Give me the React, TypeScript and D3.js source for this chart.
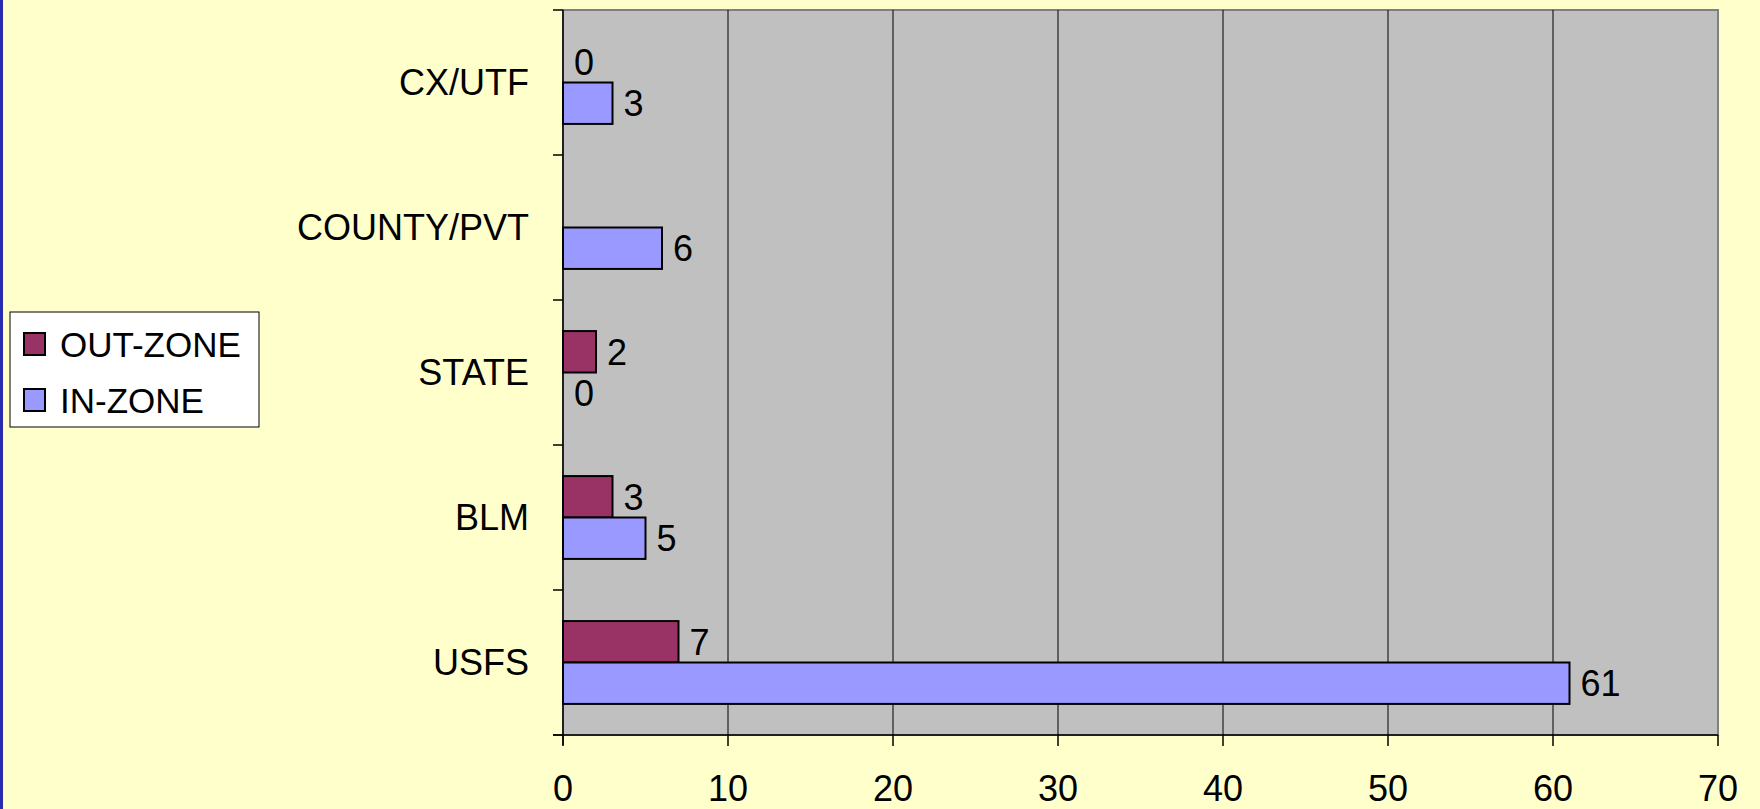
import React from "react";
import * as d3 from "d3";

const categories = ["CX/UTF", "COUNTY/PVT", "STATE", "BLM", "USFS"];
const seriesNames = ["OUT-ZONE", "IN-ZONE"];
const outZone: (number | null)[] = [0, null, 2, 3, 7];
const inZone: (number | null)[] = [3, 6, 0, 5, 61];
const xTicks = [0, 10, 20, 30, 40, 50, 60, 70];
const colors = ["#993366", "#9999FF"];

const W = 1760;
const H = 809;
const FONT = "'Liberation Sans', Arial, sans-serif";
const FS = 36;

export default function App() {
  const left = 563, right = 1718, top = 10, bottom = 735;
  const x = d3.scaleLinear().domain([0, 70]).range([left, right]);
  const y = d3.scaleBand<string>().domain(categories).range([top, bottom]).padding(0);
  const inner = d3.scaleBand<string>().domain(seriesNames).range([0, y.bandwidth()]).paddingInner(0).paddingOuter(0.75);
  const series = [outZone, inZone];
  const legendY = [344, 400];

  return (
    <svg width={W} height={H} style={{ position: "absolute", left: 0, top: 0, display: "block" }} fontFamily={FONT}>
      <rect x={0} y={0} width={W} height={H} fill="#FFFFCC" />
      <rect x={0} y={0} width={3} height={H} fill="#2B2BB0" />
      {/* plot area */}
      <rect x={left} y={top} width={right - left} height={bottom - top} fill="#C0C0C0" stroke="#808080" strokeWidth={2} />
      {/* gridlines */}
      {xTicks.slice(1, -1).map((t) => (
        <line key={"g" + t} x1={x(t)} x2={x(t)} y1={top} y2={bottom} stroke="#000" strokeWidth={1} />
      ))}
      {/* bars */}
      {categories.map((c, ci) =>
        series.map((s, si) => {
          const v = s[ci];
          if (v === null) return null;
          const by = (y(c) ?? 0) + (inner(seriesNames[si]) ?? 0);
          const bh = inner.bandwidth();
          return (
            <g key={c + si}>
              {v > 0 && (
                <rect x={x(0)} y={by} width={x(v) - x(0)} height={bh} fill={colors[si]} stroke="#000" strokeWidth={2} />
              )}
              <text x={x(v) + 11} y={by + bh / 2} dy="0.36em" fontSize={FS} fill="#000">
                {v}
              </text>
            </g>
          );
        })
      )}
      {/* y axis */}
      <line x1={left} x2={left} y1={top} y2={bottom + 10} stroke="#000" strokeWidth={1.5} />
      {categories.map((c) => (
        <line key={"yt" + c} x1={left - 10} x2={left} y1={y(c)} y2={y(c)} stroke="#000" strokeWidth={1.5} />
      ))}
      <line x1={left - 10} x2={left} y1={bottom} y2={bottom} stroke="#000" strokeWidth={1.5} />
      {categories.map((c) => (
        <text key={"yl" + c} x={529} y={(y(c) ?? 0) + y.bandwidth() / 2} dy="0.36em" textAnchor="end" fontSize={FS} fill="#000">
          {c}
        </text>
      ))}
      {/* x axis */}
      <line x1={left - 10} x2={right} y1={bottom} y2={bottom} stroke="#000" strokeWidth={1.5} />
      {xTicks.map((t) => (
        <g key={"xt" + t}>
          <line x1={x(t)} x2={x(t)} y1={bottom} y2={bottom + 11} stroke="#000" strokeWidth={1.5} />
          <text x={x(t)} y={788} dy="0.36em" textAnchor="middle" fontSize={FS} fill="#000">
            {t}
          </text>
        </g>
      ))}
      {/* legend */}
      <rect x={10} y={312} width={249} height={115} fill="#FFFFFF" stroke="#000" strokeWidth={1} />
      {seriesNames.map((n, i) => (
        <g key={"lg" + n}>
          <rect x={24} y={legendY[i] - 11} width={21} height={22} fill={colors[i]} stroke="#000" strokeWidth={2} />
          <text x={60} y={legendY[i]} dy="0.36em" fontSize={35} fill="#000">
            {n}
          </text>
        </g>
      ))}
    </svg>
  );
}
